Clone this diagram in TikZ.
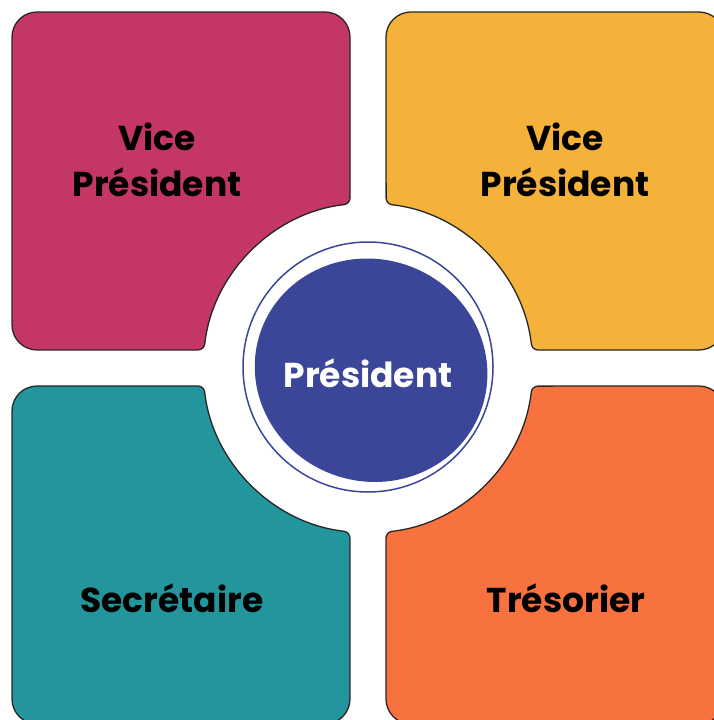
\documentclass[tikz,border=0pt]{standalone}
\usepackage{fontspec}
\setmainfont{Poppins}
\usepackage{tikz}
\usetikzlibrary{calc}
\usetikzlibrary{positioning}

\definecolor{vpleft}{HTML}{C43663}
\definecolor{vpright}{HTML}{F5B23A}
\definecolor{secr}{HTML}{23959C}
\definecolor{tres}{HTML}{F87240}
\definecolor{pres}{HTML}{3C4699}

\tikzset{
  box/.style={draw=black!85, line width=1.3pt, rounded corners=25pt},
  role/.style={font=\bfseries\fontsize{34.5}{46}\selectfont, text=black, align=center},
}

\begin{document}
\begin{tikzpicture}[x=1pt, y=-1pt]
    \useasboundingbox (0,0) rectangle (713,720);
    \coordinate (O) at (368,367);

    % four boxes, each with a bite round the centre
    \draw[box, fill=vpleft] (180,12) -- (350,12) [rounded corners=6pt] -- (350,204)
        arc[start angle=263.7, end angle=186.3, radius=165] [rounded corners=25pt] -- (12,350) -- (12,12) -- cycle;
    \draw[box, fill=vpright] (555,12) -- (724,12) -- (724,350) [rounded corners=6pt] -- (532,350)
        arc[start angle=353.7, end angle=276.3, radius=165] [rounded corners=25pt] -- (386,12) -- cycle;
    \draw[box, fill=secr] (180,724) -- (12,724) -- (12,386) [rounded corners=6pt] -- (204,386)
        arc[start angle=173.7, end angle=96.3, radius=165] [rounded corners=25pt] -- (350,724) -- cycle;
    \draw[box, fill=tres] (555,724) -- (386,724) [rounded corners=6pt] -- (386,532)
        arc[start angle=83.7, end angle=6.3, radius=165] [rounded corners=25pt] -- (724,386) -- (724,724) -- cycle;

    % centre disc
    \fill[pres, rotate around={-20:($(O)+(4,2)$)}] ($(O)+(4,2)$) ellipse [x radius=117, y radius=111];
    \draw[pres, line width=1.5pt] (O) circle (125);

    \node[role] (vpa) at (157,160) {Vice\\Président};
    \node[role] (vpb) at (565,160) {Vice\\Président};
    \node[role] (sec) at (172,598) {Secrétaire};
    \node[role] (tre) at (566,598) {Trésorier};
    \node[role, text=white] (pre) at (368,373) {Président};
\end{tikzpicture}
\end{document}
